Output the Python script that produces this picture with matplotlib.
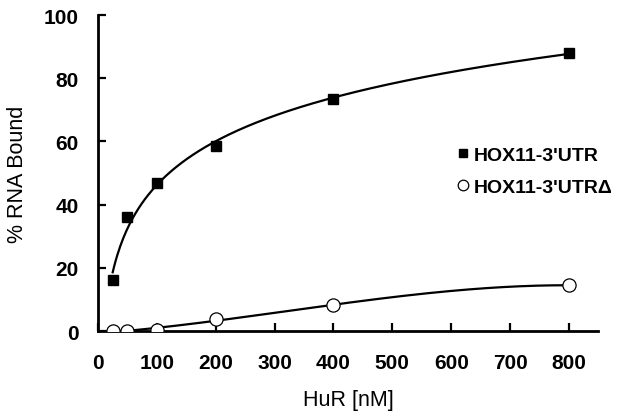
import numpy as np
import matplotlib
matplotlib.use("Agg")
import matplotlib.pyplot as plt

plt.rcParams['font.family'] = ['Liberation Sans', 'DejaVu Sans']

hur_nM = [25, 50, 100, 200, 400, 800]
utr_bound = [16, 36, 47, 58.5, 73.5, 88]
utr_delta_bound = [0, 0, 0.3, 3.8, 8.2, 14.5]
series_labels = ["HOX11-3'UTR", "HOX11-3'UTRΔ"]
x_ticks = [0, 100, 200, 300, 400, 500, 600, 700, 800]
y_ticks = [0, 20, 40, 60, 80, 100]

fig = plt.figure(figsize=(6.17, 4.14), dpi=100)
ax = fig.add_axes([0.1588, 0.198, 0.811, 0.763])

x = np.array(hur_nM, dtype=float)
xf = np.linspace(x.min(), x.max(), 300)

# logarithmic trendline for the full 3'UTR
a, b = np.polyfit(np.log(x), utr_bound, 1)
ax.plot(xf, a * np.log(xf) + b, color='black', lw=1.6, zorder=2)
# polynomial trendline for the deletion
p = np.polyfit(x, utr_delta_bound, 3)
ax.plot(xf, np.polyval(p, xf), color='black', lw=1.6, zorder=2)

ax.plot(x, utr_bound, 's', color='black', ms=7, label=series_labels[0], zorder=3)
ax.plot(x, utr_delta_bound, 'o', mfc='white', mec='black', mew=0.9, ms=9.5,
        label=series_labels[1], zorder=3)

ax.set_xlim(0, 850)
ax.set_ylim(0, 100)
ax.set_xticks(x_ticks)
ax.set_yticks(y_ticks)
for s in ['top', 'right']:
    ax.spines[s].set_visible(False)
for s in ['left', 'bottom']:
    ax.spines[s].set_linewidth(2)
ax.tick_params(direction='in', length=6, width=1.6, labelsize=15)
ax.tick_params(axis='y', pad=14)
ax.tick_params(axis='x', pad=16)
for lab in ax.get_xticklabels() + ax.get_yticklabels():
    lab.set_fontweight('bold')

ax.set_xlabel('HuR [nM]', fontsize=15.5, labelpad=12)
ax.set_ylabel('% RNA Bound', fontsize=15.5, labelpad=11)

leg = ax.legend(loc='upper left', bbox_to_anchor=(0.705, 0.61), frameon=False,
                handlelength=0.5, handletextpad=0.3, borderaxespad=0,
                labelspacing=0.75, markerscale=0.8,
                prop={'weight': 'bold', 'size': 14})

fig.savefig('out.png', dpi=100)
